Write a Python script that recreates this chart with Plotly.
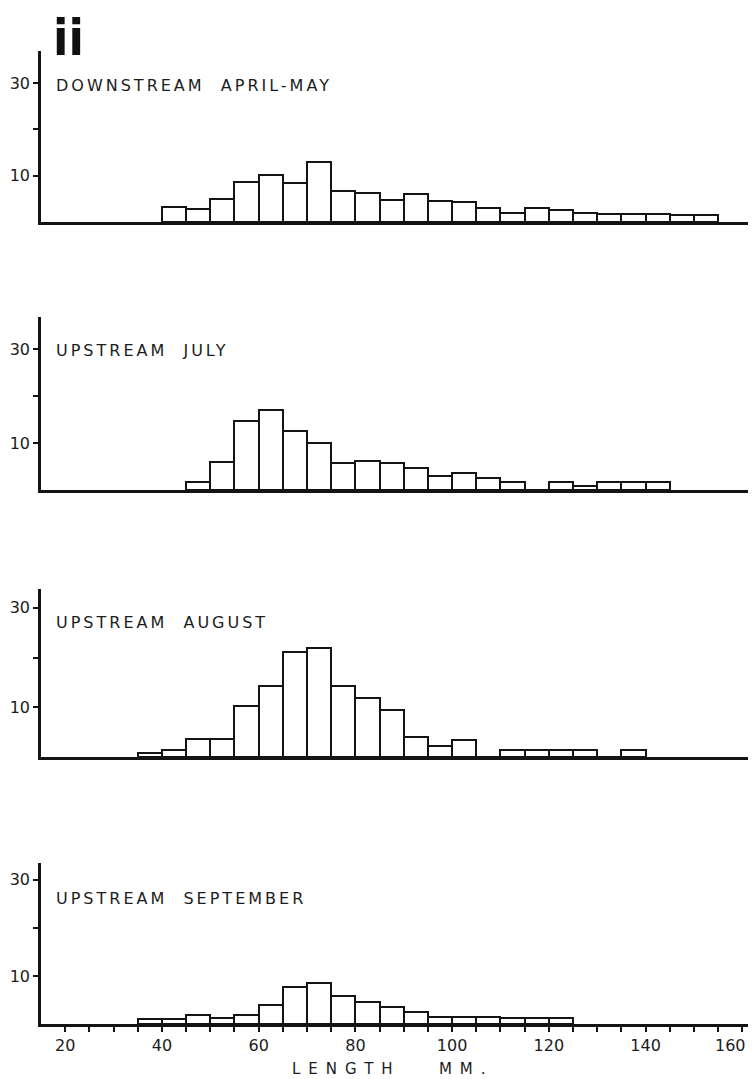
import plotly.graph_objects as go

# ---- data (fish length-frequency, 5 mm classes; left edge of class) ----
bins_apr_may = [40, 45, 50, 55, 60, 65, 70, 75, 80, 85, 90, 95, 100, 105, 110,
                115, 120, 125, 130, 135, 140, 145, 150]
apr_may = [3.2, 2.8, 5.0, 8.6, 10.2, 8.4, 13.0, 6.7, 6.3, 4.8, 6.0, 4.5, 4.3,
           3.0, 1.9, 3.0, 2.6, 1.9, 1.7, 1.7, 1.7, 1.5, 1.5]

bins_july = [45, 50, 55, 60, 65, 70, 75, 80, 85, 90, 95, 100, 105, 110, 115,
             120, 125, 130, 135, 140]
july = [1.7, 6.0, 14.7, 17.0, 12.6, 10.0, 5.7, 6.2, 5.7, 4.6, 3.0, 3.7, 2.5,
        1.6, 0, 1.8, 0.9, 1.8, 1.8, 1.8]

bins_august = [35, 40, 45, 50, 55, 60, 65, 70, 75, 80, 85, 90, 95, 100, 105,
               110, 115, 120, 125, 130, 135]
august = [0.9, 1.5, 3.6, 3.6, 10.2, 14.3, 21.2, 21.9, 14.3, 11.9, 9.5, 4.1,
          2.2, 3.5, 0, 1.4, 1.4, 1.4, 1.4, 0, 1.4]

bins_september = [35, 40, 45, 50, 55, 60, 65, 70, 75, 80, 85, 90, 95, 100,
                  105, 110, 115, 120]
september = [1.0, 1.0, 1.9, 1.2, 1.9, 4.0, 7.6, 8.6, 5.8, 4.5, 3.6, 2.4, 1.5,
             1.5, 1.5, 1.2, 1.2, 1.2]

panel_titles = ["DOWNSTREAM\u00a0\u00a0APRIL-MAY", "UPSTREAM\u00a0\u00a0JULY",
                "UPSTREAM\u00a0\u00a0AUGUST", "UPSTREAM\u00a0\u00a0SEPTEMBER"]
y_tickvals = [10, 20, 30]
y_ticktext = ["10", "", "30"]
x_tickvals = list(range(20, 161, 5))
x_label_max = 160            # last labelled tick, drawn right-aligned so it stays visible
x_ticktext = [str(v) if (v % 20 == 0 and v != x_label_max) else ""
              for v in x_tickvals]
bin_width = 5

# ---- layout geometry (page has an 8px body margin) ----
W, H = 748, 1071
ML, MR = 33, 4
x_range = [15, 162]
# (top px, baseline px, y max) for each panel, in figure pixels
panels = [(43, 214, 36.9), (309, 482, 36.8), (581, 749, 33.8), (855, 1016, 33.5)]
title_y = [78, 342, 614, 890]

FONT = "DejaVu Sans"
INK = "#141414"
TXT = "#1c1c1c"
PW = W - ML - MR

series = [(bins_apr_may, apr_may), (bins_july, july),
          (bins_august, august), (bins_september, september)]

fig = go.Figure()
layout = dict(
    width=W, height=H,
    margin=dict(l=ML, r=MR, t=0, b=0, autoexpand=False),
    paper_bgcolor="white", plot_bgcolor="white",
    showlegend=False,
    font=dict(family=FONT, color=TXT),
    bargap=0,
)

annotations = []
for i, ((bins, vals), (top, base, ymax)) in enumerate(zip(series, panels)):
    k = "" if i == 0 else str(i + 1)
    fig.add_trace(go.Bar(
        x=bins, y=vals, width=bin_width, offset=0,
        marker=dict(color="white", line=dict(color=INK, width=2)),
        xaxis="x" + k, yaxis="y" + k, hoverinfo="x+y",
    ))
    bottom = (i == 3)
    layout["xaxis" + k] = dict(
        domain=[0, 1], range=x_range, anchor="y" + k, automargin=False,
        showline=True, linewidth=2.6, linecolor=INK, showgrid=False,
        zeroline=False,
        tickmode="array", tickvals=x_tickvals if bottom else [],
        ticktext=x_ticktext if bottom else [],
        ticks="outside" if bottom else "", ticklen=5, tickwidth=1.5,
        tickcolor=INK, showticklabels=bottom, ticklabeloverflow="allow",
        tickfont=dict(family=FONT, size=16, color=TXT),
    )
    layout["yaxis" + k] = dict(
        domain=[1 - base / H, 1 - top / H], range=[0, ymax], anchor="x" + k,
        automargin=False,
        showline=True, linewidth=2.6, linecolor=INK, showgrid=False,
        zeroline=False,
        tickmode="array", tickvals=y_tickvals, ticktext=y_ticktext,
        ticks="outside", ticklen=5, tickwidth=1.5, tickcolor=INK,
        tickfont=dict(family=FONT, size=16, color=TXT),
    )
    annotations.append(dict(
        xref="paper", yref="paper",
        x=(46 - ML) / PW, y=1 - title_y[i] / H,
        xanchor="left", yanchor="middle", showarrow=False,
        text='<span style="letter-spacing:3px">' + panel_titles[i] + "</span>",
        font=dict(family=FONT, size=16, color=TXT),
    ))

# last x tick label (kept inside the visible page)
annotations.append(dict(
    xref="x4", yref="paper", x=x_label_max, y=1 - 1037 / H,
    xanchor="right", yanchor="middle", xshift=5, showarrow=False,
    borderpad=0, text=str(x_label_max),
    font=dict(family=FONT, size=16, color=TXT),
))
# panel label "ii"
annotations.append(dict(
    xref="paper", yref="paper",
    x=(60.5 - ML) / PW, y=1,
    xanchor="center", yanchor="top", showarrow=False, borderpad=0,
    text="<b>ii</b>", font=dict(family="DejaVu Sans Condensed", size=50,
                                color="#111111"),
))
# x-axis title
annotations.append(dict(
    xref="paper", yref="paper",
    x=(385 - ML) / PW, y=1 - 1061 / H,
    xanchor="center", yanchor="middle", showarrow=False, borderpad=0,
    text='<span style="letter-spacing:8px">LENGTH\u00a0\u00a0\u00a0MM.</span>',
    font=dict(family=FONT, size=15, color=TXT),
))
layout["annotations"] = annotations
fig.update_layout(**layout)
fig.write_html("out.html")
